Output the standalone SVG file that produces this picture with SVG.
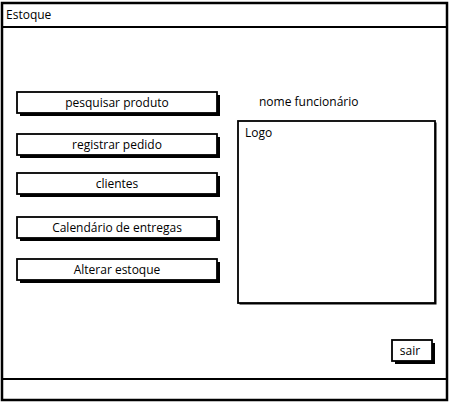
<svg xmlns="http://www.w3.org/2000/svg" width="450" height="402" viewBox="0 0 450 402">
<style>
.frame{fill:#fff;stroke:#000;stroke-width:2.5}
.line{stroke:#000;stroke-width:2}
.btn{fill:#fff;stroke:#000;stroke-width:1.8}
.shadow{fill:#000}
text{font-family:"Open Sans","Liberation Sans",sans-serif;font-size:12px;fill:#000}
.c{text-anchor:middle}
</style>
<g id="window">
<rect class="frame" x="2" y="3" width="445" height="397"/>
<line class="line" x1="2" y1="27" x2="447" y2="27"/>
<line class="line" x1="2" y1="379" x2="447" y2="379"/>
<text x="6" y="19">Estoque</text>
</g>
<g id="btn-pesquisar">
<rect class="shadow" x="20" y="95" width="200" height="21"/>
<rect class="btn" x="17" y="92" width="200" height="21"/>
<text class="c" x="117" y="107">pesquisar produto</text>
</g>
<g id="btn-registrar">
<rect class="shadow" x="20" y="137" width="200" height="21"/>
<rect class="btn" x="17" y="134" width="200" height="21"/>
<text class="c" x="117" y="149">registrar pedido</text>
</g>
<g id="btn-clientes">
<rect class="shadow" x="20" y="176" width="200" height="21"/>
<rect class="btn" x="17" y="173" width="200" height="21"/>
<text class="c" x="117" y="188">clientes</text>
</g>
<g id="btn-calendario">
<rect class="shadow" x="20" y="220" width="200" height="21"/>
<rect class="btn" x="17" y="217" width="200" height="21"/>
<text class="c" x="117" y="232">Calendário de entregas</text>
</g>
<g id="btn-alterar">
<rect class="shadow" x="20" y="262" width="200" height="21"/>
<rect class="btn" x="17" y="259" width="200" height="21"/>
<text class="c" x="117" y="274">Alterar estoque</text>
</g>
<g id="label-nome">
<text x="259" y="106">nome funcionário</text>
</g>
<g id="logo">
<rect class="shadow" x="239.5" y="122.5" width="197" height="182"/>
<rect class="btn" x="238" y="121" width="197" height="182" stroke-width="2"/>
<text x="245" y="137">Logo</text>
</g>
<g id="btn-sair">
<rect class="shadow" x="395" y="343" width="40" height="21"/>
<rect class="btn" x="392" y="340" width="40" height="21"/>
<text class="c" x="410" y="355">sair</text>
</g>
<g id="connectors"/>
</svg>
